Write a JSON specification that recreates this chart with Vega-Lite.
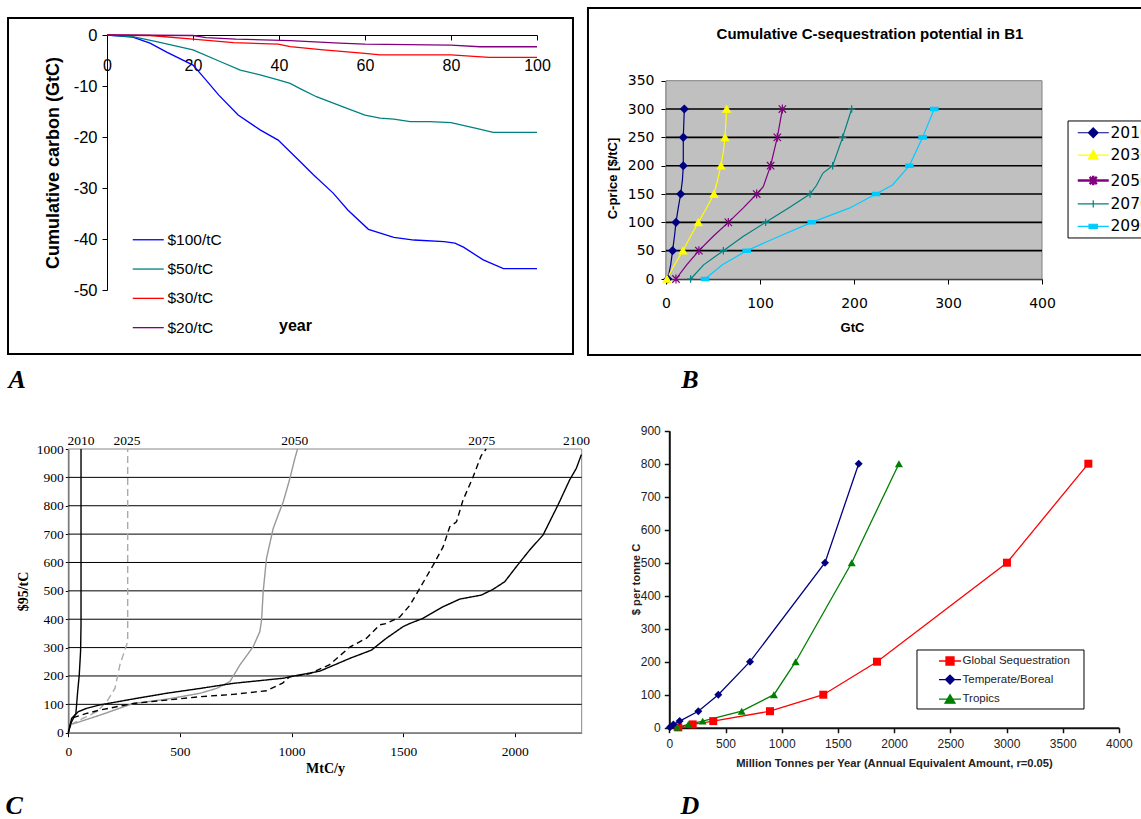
{
"$schema": "https://vega.github.io/schema/vega-lite/v6.json",
"width": 1141, "height": 819,
"autosize": {"type": "none"},
"padding": 0,
"background": "white",
"config": {
  "view": {"stroke": null},
  "font": "Liberation Sans",
  "axis": {"labelFlush": false, "labelOverlap": false, "labelBound": false, "grid": false, "zindex": 1, "domainColor": "black", "tickColor": "black", "labelColor": "black", "titleColor": "black", "labelExpr": "'' + datum.value"},
  "legend": {"labelLimit": 400}
},
"datasets": {
  "dsA": [
    {"scenario":"$100/tC","year":0,"carbon":0},{"scenario":"$100/tC","year":6,"carbon":-0.4},{"scenario":"$100/tC","year":10,"carbon":-1.6},{"scenario":"$100/tC","year":14,"carbon":-3.4},{"scenario":"$100/tC","year":20,"carbon":-5.9},{"scenario":"$100/tC","year":22.4,"carbon":-8.2},{"scenario":"$100/tC","year":26,"carbon":-11.8},{"scenario":"$100/tC","year":30.5,"carbon":-15.7},{"scenario":"$100/tC","year":35.6,"carbon":-18.6},{"scenario":"$100/tC","year":39.8,"carbon":-20.6},{"scenario":"$100/tC","year":44.9,"carbon":-24.8},{"scenario":"$100/tC","year":48,"carbon":-27.4},{"scenario":"$100/tC","year":52.6,"carbon":-31},{"scenario":"$100/tC","year":56,"carbon":-34.3},{"scenario":"$100/tC","year":60.8,"carbon":-38.1},{"scenario":"$100/tC","year":66.7,"carbon":-39.7},{"scenario":"$100/tC","year":71.4,"carbon":-40.2},{"scenario":"$100/tC","year":78.4,"carbon":-40.5},{"scenario":"$100/tC","year":80.9,"carbon":-40.8},{"scenario":"$100/tC","year":82.9,"carbon":-41.6},{"scenario":"$100/tC","year":87.5,"carbon":-44.1},{"scenario":"$100/tC","year":92.2,"carbon":-45.8},{"scenario":"$100/tC","year":100,"carbon":-45.8},
    {"scenario":"$50/tC","year":0,"carbon":0},{"scenario":"$50/tC","year":6,"carbon":-0.3},{"scenario":"$50/tC","year":11.5,"carbon":-1.3},{"scenario":"$50/tC","year":20,"carbon":-2.9},{"scenario":"$50/tC","year":26.3,"carbon":-5.2},{"scenario":"$50/tC","year":31,"carbon":-6.9},{"scenario":"$50/tC","year":35.6,"carbon":-7.8},{"scenario":"$50/tC","year":39.8,"carbon":-8.8},{"scenario":"$50/tC","year":42.6,"carbon":-9.5},{"scenario":"$50/tC","year":44.9,"carbon":-10.5},{"scenario":"$50/tC","year":48.7,"carbon":-12.1},{"scenario":"$50/tC","year":54.9,"carbon":-14.1},{"scenario":"$50/tC","year":60,"carbon":-15.7},{"scenario":"$50/tC","year":63.5,"carbon":-16.3},{"scenario":"$50/tC","year":66.7,"carbon":-16.5},{"scenario":"$50/tC","year":70.5,"carbon":-17},{"scenario":"$50/tC","year":75.1,"carbon":-17},{"scenario":"$50/tC","year":80,"carbon":-17.2},{"scenario":"$50/tC","year":85.9,"carbon":-18.3},{"scenario":"$50/tC","year":89.8,"carbon":-19.1},{"scenario":"$50/tC","year":100,"carbon":-19.1},
    {"scenario":"$30/tC","year":0,"carbon":0},{"scenario":"$30/tC","year":10,"carbon":-0.1},{"scenario":"$30/tC","year":20,"carbon":-0.8},{"scenario":"$30/tC","year":29.4,"carbon":-1.5},{"scenario":"$30/tC","year":39.8,"carbon":-1.8},{"scenario":"$30/tC","year":42.6,"carbon":-2.3},{"scenario":"$30/tC","year":50.3,"carbon":-2.9},{"scenario":"$30/tC","year":60,"carbon":-3.6},{"scenario":"$30/tC","year":63.5,"carbon":-3.9},{"scenario":"$30/tC","year":80,"carbon":-3.9},{"scenario":"$30/tC","year":88.9,"carbon":-4.4},{"scenario":"$30/tC","year":100,"carbon":-4.4},
    {"scenario":"$20/tC","year":0,"carbon":0},{"scenario":"$20/tC","year":20,"carbon":-0.1},{"scenario":"$20/tC","year":23,"carbon":-0.5},{"scenario":"$20/tC","year":30,"carbon":-0.8},{"scenario":"$20/tC","year":42.6,"carbon":-1.1},{"scenario":"$20/tC","year":54.1,"carbon":-1.6},{"scenario":"$20/tC","year":60,"carbon":-1.8},{"scenario":"$20/tC","year":80,"carbon":-2},{"scenario":"$20/tC","year":86.7,"carbon":-2.3},{"scenario":"$20/tC","year":100,"carbon":-2.3}
  ],
  "dsB": [
    {"year":"2010","gtc":2,"price":0},{"year":"2010","gtc":5,"price":25},{"year":"2010","gtc":7,"price":50},{"year":"2010","gtc":9,"price":75},{"year":"2010","gtc":10.6,"price":100},{"year":"2010","gtc":13,"price":125},{"year":"2010","gtc":15.6,"price":150},{"year":"2010","gtc":17.5,"price":175},{"year":"2010","gtc":18.4,"price":200},{"year":"2010","gtc":18.4,"price":250},{"year":"2010","gtc":19.5,"price":300},
    {"year":"2030","gtc":1,"price":0},{"year":"2030","gtc":9,"price":25},{"year":"2030","gtc":18,"price":50},{"year":"2030","gtc":26,"price":75},{"year":"2030","gtc":34.4,"price":100},{"year":"2030","gtc":43,"price":125},{"year":"2030","gtc":51,"price":150},{"year":"2030","gtc":54,"price":169},{"year":"2030","gtc":58.5,"price":200},{"year":"2030","gtc":61,"price":225},{"year":"2030","gtc":62.8,"price":250},{"year":"2030","gtc":64.5,"price":300},
    {"year":"2050","gtc":10.6,"price":0},{"year":"2050","gtc":22,"price":25},{"year":"2050","gtc":35,"price":50},{"year":"2050","gtc":50,"price":75},{"year":"2050","gtc":66.3,"price":100},{"year":"2050","gtc":82,"price":125},{"year":"2050","gtc":96.5,"price":150},{"year":"2050","gtc":103.5,"price":163},{"year":"2050","gtc":111.3,"price":200},{"year":"2050","gtc":118.4,"price":250},{"year":"2050","gtc":123.8,"price":300},
    {"year":"2070","gtc":26.2,"price":0},{"year":"2070","gtc":40,"price":25},{"year":"2070","gtc":61,"price":50},{"year":"2070","gtc":82,"price":75},{"year":"2070","gtc":106,"price":100},{"year":"2070","gtc":130,"price":125},{"year":"2070","gtc":153.2,"price":150},{"year":"2070","gtc":160,"price":165},{"year":"2070","gtc":167,"price":187},{"year":"2070","gtc":177.3,"price":200},{"year":"2070","gtc":187.9,"price":250},{"year":"2070","gtc":197.5,"price":300},
    {"year":"2090","gtc":41.5,"price":0},{"year":"2090","gtc":60,"price":25},{"year":"2090","gtc":85.8,"price":50},{"year":"2090","gtc":120,"price":75},{"year":"2090","gtc":155,"price":100},{"year":"2090","gtc":195,"price":125},{"year":"2090","gtc":223.4,"price":150},{"year":"2090","gtc":241,"price":166},{"year":"2090","gtc":258.9,"price":200},{"year":"2090","gtc":273,"price":250},{"year":"2090","gtc":285.4,"price":300}
  ],
  "dsC": [
    {"year":"2010","mtc":0,"price":0},{"year":"2010","mtc":15,"price":39},{"year":"2010","mtc":34,"price":68},{"year":"2010","mtc":42,"price":145},{"year":"2010","mtc":49,"price":203},{"year":"2010","mtc":55,"price":286},{"year":"2010","mtc":57,"price":380},{"year":"2010","mtc":57,"price":1000},
    {"year":"2025","mtc":10,"price":30},{"year":"2025","mtc":22,"price":33},{"year":"2025","mtc":67,"price":51},{"year":"2025","mtc":127,"price":74},{"year":"2025","mtc":172,"price":109},{"year":"2025","mtc":209,"price":156},{"year":"2025","mtc":231,"price":239},{"year":"2025","mtc":266,"price":321},{"year":"2025","mtc":266,"price":1000},
    {"year":"2050","mtc":15,"price":30},{"year":"2050","mtc":37,"price":35},{"year":"2050","mtc":142,"price":62},{"year":"2050","mtc":291,"price":103},{"year":"2050","mtc":440,"price":118},{"year":"2050","mtc":590,"price":139},{"year":"2050","mtc":664,"price":156},{"year":"2050","mtc":724,"price":180},{"year":"2050","mtc":769,"price":239},{"year":"2050","mtc":828,"price":303},{"year":"2050","mtc":858,"price":356},{"year":"2050","mtc":866,"price":397},{"year":"2050","mtc":873,"price":497},{"year":"2050","mtc":888,"price":615},{"year":"2050","mtc":918,"price":720},{"year":"2050","mtc":940,"price":767},{"year":"2050","mtc":963,"price":814},{"year":"2050","mtc":993,"price":897},{"year":"2050","mtc":1015,"price":967},{"year":"2050","mtc":1027,"price":1000},
    {"year":"2075","mtc":5,"price":20},{"year":"2075","mtc":22,"price":53},{"year":"2075","mtc":82,"price":68},{"year":"2075","mtc":142,"price":80},{"year":"2075","mtc":291,"price":103},{"year":"2075","mtc":440,"price":115},{"year":"2075","mtc":590,"price":127},{"year":"2075","mtc":739,"price":135},{"year":"2075","mtc":888,"price":148},{"year":"2075","mtc":960,"price":175},{"year":"2075","mtc":992,"price":197},{"year":"2075","mtc":1082,"price":208},{"year":"2075","mtc":1171,"price":240},{"year":"2075","mtc":1261,"price":302},{"year":"2075","mtc":1336,"price":333},{"year":"2075","mtc":1395,"price":380},{"year":"2075","mtc":1425,"price":385},{"year":"2075","mtc":1485,"price":408},{"year":"2075","mtc":1530,"price":449},{"year":"2075","mtc":1574,"price":508},{"year":"2075","mtc":1634,"price":590},{"year":"2075","mtc":1679,"price":655},{"year":"2075","mtc":1709,"price":726},{"year":"2075","mtc":1739,"price":743},{"year":"2075","mtc":1768,"price":819},{"year":"2075","mtc":1813,"price":901},{"year":"2075","mtc":1850,"price":977},{"year":"2075","mtc":1872,"price":1000},
    {"year":"2100","mtc":0,"price":0},{"year":"2100","mtc":15,"price":51},{"year":"2100","mtc":45,"price":74},{"year":"2100","mtc":82,"price":86},{"year":"2100","mtc":142,"price":98},{"year":"2100","mtc":291,"price":119},{"year":"2100","mtc":440,"price":139},{"year":"2100","mtc":590,"price":156},{"year":"2100","mtc":739,"price":174},{"year":"2100","mtc":888,"price":186},{"year":"2100","mtc":963,"price":192},{"year":"2100","mtc":992,"price":197},{"year":"2100","mtc":1127,"price":217},{"year":"2100","mtc":1261,"price":262},{"year":"2100","mtc":1358,"price":291},{"year":"2100","mtc":1425,"price":333},{"year":"2100","mtc":1500,"price":374},{"year":"2100","mtc":1530,"price":385},{"year":"2100","mtc":1589,"price":403},{"year":"2100","mtc":1679,"price":444},{"year":"2100","mtc":1754,"price":471},{"year":"2100","mtc":1850,"price":485},{"year":"2100","mtc":1902,"price":505},{"year":"2100","mtc":1955,"price":532},{"year":"2100","mtc":2007,"price":585},{"year":"2100","mtc":2067,"price":644},{"year":"2100","mtc":2127,"price":697},{"year":"2100","mtc":2194,"price":803},{"year":"2100","mtc":2246,"price":891},{"year":"2100","mtc":2276,"price":932},{"year":"2100","mtc":2299,"price":981}
  ],
  "labelsC": [
    {"yr":"2010","mtc":57},{"yr":"2025","mtc":263},{"yr":"2050","mtc":1015},{"yr":"2075","mtc":1852},{"yr":"2100","mtc":2277}
  ],
  "dsD": [
    {"region":"Global Sequestration","mt":80,"price":1},{"region":"Global Sequestration","mt":208,"price":10},{"region":"Global Sequestration","mt":391,"price":20},{"region":"Global Sequestration","mt":896,"price":50},{"region":"Global Sequestration","mt":1370,"price":100},{"region":"Global Sequestration","mt":1848,"price":200},{"region":"Global Sequestration","mt":3004,"price":500},{"region":"Global Sequestration","mt":3728,"price":800},
    {"region":"Temperate/Boreal","mt":5,"price":1},{"region":"Temperate/Boreal","mt":36,"price":10},{"region":"Temperate/Boreal","mt":92,"price":20},{"region":"Temperate/Boreal","mt":258,"price":50},{"region":"Temperate/Boreal","mt":436,"price":100},{"region":"Temperate/Boreal","mt":718,"price":200},{"region":"Temperate/Boreal","mt":1385,"price":500},{"region":"Temperate/Boreal","mt":1685,"price":800},
    {"region":"Tropics","mt":71,"price":1},{"region":"Tropics","mt":169,"price":10},{"region":"Tropics","mt":297,"price":20},{"region":"Tropics","mt":644,"price":50},{"region":"Tropics","mt":931,"price":100},{"region":"Tropics","mt":1124,"price":200},{"region":"Tropics","mt":1623,"price":500},{"region":"Tropics","mt":2043,"price":800}
  ]
},
"layer": [
  {
    "data": {"values": [{}]},
    "mark": {"type": "rect", "fill": "transparent", "stroke": "black", "strokeWidth": 2},
    "encoding": {
      "x": {"datum": -23.02, "type": "quantitative", "scale": {"domain": [0,100], "range": [107,537], "nice": false, "zero": false}, "axis": null},
      "x2": {"datum": 108.37},
      "y": {"datum": 3.33, "type": "quantitative", "scale": {"domain": [-50,0], "range": [290,35], "nice": false, "zero": false}, "axis": null},
      "y2": {"datum": -62.55}
    }
  },
  {
    "data": {"name": "dsA"},
    "mark": {"type": "line", "strokeWidth": 1.3},
    "encoding": {
      "x": {"field": "year", "type": "quantitative", "scale": {"domain": [0,100], "range": [107,537], "nice": false, "zero": false},
            "axis": {"orient": "bottom", "offset": -784, "values": [0,20,40,60,80,100], "tickSize": 5, "labelPadding": 17, "labelFont": "Liberation Sans", "labelFontSize": 16, "title": "year", "titleFont": "Liberation Sans", "titleFontSize": 16, "titleFontWeight": "bold", "titleX": 295, "titleY": 290, "titleBaseline": "middle"}},
      "y": {"field": "carbon", "type": "quantitative", "scale": {"domain": [-50,0], "range": [290,35], "nice": false, "zero": false},
            "axis": {"orient": "left", "offset": -107, "values": [0,-10,-20,-30,-40,-50], "tickSize": 5, "labelPadding": 5, "labelFont": "Liberation Sans", "labelFontSize": 16.5, "title": "Cumulative carbon (GtC)", "titleFont": "Liberation Sans", "titleFontSize": 18, "titleFontWeight": "bold", "titleX": -54, "titleY": 162.5, "titleBaseline": "middle", "titleAngle": -90}},
      "color": {"field": "scenario", "type": "nominal",
                "scale": {"domain": ["$100/tC","$50/tC","$30/tC","$20/tC"], "range": ["#0000ff","#008080","#ff0000","#800080"]},
                "legend": {"orient": "none", "legendX": 131, "legendY": 232, "direction": "vertical", "title": null, "padding": 0, "symbolType": "M-1,0L4.17,0", "symbolSize": 144, "symbolStrokeWidth": 1.3, "labelFont": "Liberation Sans", "labelFontSize": 15.5, "labelColor": "black", "labelOffset": 21, "rowPadding": 12.3}}
    }
  },
  {
    "data": {"values": [{"t": "A"}]},
    "mark": {"type": "text", "font": "Liberation Serif", "fontSize": 26, "fontWeight": "bold", "fontStyle": "italic", "color": "black"},
    "encoding": {
      "x": {"datum": -20.9, "type": "quantitative", "scale": {"domain": [0,100], "range": [107,537], "nice": false, "zero": false}, "axis": null},
      "y": {"datum": -67.6, "type": "quantitative", "scale": {"domain": [-50,0], "range": [290,35], "nice": false, "zero": false}, "axis": null},
      "text": {"field": "t"}
    }
  },
  {
    "data": {"values": [{}]},
    "mark": {"type": "rect", "fill": "transparent", "stroke": "black", "strokeWidth": 2},
    "encoding": {
      "x": {"datum": -83, "type": "quantitative", "scale": {"domain": [0,400], "range": [666,1042], "nice": false, "zero": false}, "axis": null},
      "x2": {"datum": 510},
      "y": {"datum": 478.3, "type": "quantitative", "scale": {"domain": [0,350], "range": [279,80.7], "nice": false, "zero": false}, "axis": null},
      "y2": {"datum": -134.1}
    }
  },
  {
    "data": {"values": [{}]},
    "mark": {"type": "rect", "fill": "#c0c0c0", "stroke": "#808080", "strokeWidth": 1},
    "encoding": {
      "x": {"datum": 0, "type": "quantitative", "scale": {"domain": [0,400], "range": [666,1042], "nice": false, "zero": false}, "axis": null},
      "x2": {"datum": 400},
      "y": {"datum": 0, "type": "quantitative", "scale": {"domain": [0,350], "range": [279,80.7], "nice": false, "zero": false}, "axis": null},
      "y2": {"datum": 350}
    }
  },
  {
    "data": {"values": [{"p":50},{"p":100},{"p":150},{"p":200},{"p":250},{"p":300}]},
    "mark": {"type": "rule", "color": "black", "strokeWidth": 1.6},
    "encoding": {
      "y": {"field": "p", "type": "quantitative", "scale": {"domain": [0,350], "range": [279,80.7], "nice": false, "zero": false}, "axis": null},
      "x": {"datum": 0, "type": "quantitative", "scale": {"domain": [0,400], "range": [666,1042], "nice": false, "zero": false}, "axis": null},
      "x2": {"datum": 400}
    }
  },
  {
    "data": {"values": [{}]},
    "mark": {"type": "rect", "fill": "white", "stroke": "black", "strokeWidth": 1},
    "encoding": {
      "x": {"datum": 427.7, "type": "quantitative", "scale": {"domain": [0,400], "range": [666,1042], "nice": false, "zero": false}, "axis": null},
      "x2": {"datum": 525.5},
      "y": {"datum": 278.9, "type": "quantitative", "scale": {"domain": [0,350], "range": [279,80.7], "nice": false, "zero": false}, "axis": null},
      "y2": {"datum": 72.4}
    }
  },
  {
    "data": {"name": "dsB"},
    "mark": {"type": "line", "strokeWidth": 1.2},
    "encoding": {
      "x": {"field": "gtc", "type": "quantitative", "scale": {"domain": [0,400], "range": [666,1042], "nice": false, "zero": false},
            "axis": {"orient": "bottom", "offset": -540, "values": [0,100,200,300,400], "tickSize": 5, "domainWidth": 1.5, "labelPadding": 12, "labelFont": "DejaVu Sans", "labelFontSize": 14, "title": "GtC", "titleFont": "Liberation Sans", "titleFontSize": 13, "titleFontWeight": "bold", "titleX": 852, "titleY": 48, "titleBaseline": "middle"}},
      "y": {"field": "price", "type": "quantitative", "scale": {"domain": [0,350], "range": [279,80.7], "nice": false, "zero": false},
            "axis": {"orient": "left", "offset": -666, "values": [0,50,100,150,200,250,300,350], "tickSize": 5, "domainWidth": 1.5, "labelPadding": 7, "labelFont": "DejaVu Sans", "labelFontSize": 14, "title": "C-price [$/tC]", "titleFont": "Liberation Sans", "titleFontSize": 13, "titleFontWeight": "bold", "titleX": -54, "titleY": 178, "titleBaseline": "middle", "titleAngle": -90}},
      "order": {"field": "price", "type": "quantitative"},
      "color": {"field": "year", "type": "nominal",
                "scale": {"domain": ["2010","2030","2050","2070","2090"], "range": ["#000080","#ffff00","#800080","#008080","#00ccff"]},
                "legend": {"orient": "none", "legendX": 1076, "legendY": 125, "direction": "vertical", "title": null, "padding": 0, "symbolSize": 144, "labelFont": "DejaVu Sans", "labelFontSize": 15.5, "labelColor": "black", "labelOffset": 19, "rowPadding": 5.4,
                  "encode": {"symbols": {"update": {
                    "shape": {"signal": "datum.value==='2010'?'M-1,0L4.17,0M1.58,-0.8L2.38,0L1.58,0.8L0.78,0Z':datum.value==='2030'?'M-1,0L4.17,0M0.78,0.65L1.58,-0.8L2.38,0.65Z':datum.value==='2050'?'M-1,0L4.17,0M0.98,-0.6L2.18,0.6M0.98,0.6L2.18,-0.6M1.58,-0.8L1.58,0.8':datum.value==='2070'?'M-1,0L4.17,0M1.58,-0.6L1.58,0.6':'M-1,0L4.17,0M0.88,-0.35L2.28,-0.35L2.28,0.35L0.88,0.35Z'"},
                    "fill": {"signal": "datum.value==='2010'?'#000080':datum.value==='2030'?'#ffff00':datum.value==='2050'?'#800080':datum.value==='2070'?'#008080':'#00ccff'"},
                    "stroke": {"signal": "datum.value==='2010'?'#000080':datum.value==='2030'?'#ffff00':datum.value==='2050'?'#800080':datum.value==='2070'?'#008080':'#00ccff'"},
                    "strokeWidth": {"signal": "datum.value==='2050'?2.5:1.2"},
                    "opacity": {"value": 1}
                  }}}}}
    }
  },
  {
    "data": {"name": "dsB"},
    "transform": [{"filter": "datum.price % 50 == 0"}],
    "mark": {"type": "point", "opacity": 1, "strokeWidth": 1.2, "size": 55},
    "encoding": {
      "x": {"field": "gtc", "type": "quantitative", "scale": {"domain": [0,400], "range": [666,1042], "nice": false, "zero": false}, "axis": null},
      "y": {"field": "price", "type": "quantitative", "scale": {"domain": [0,350], "range": [279,80.7], "nice": false, "zero": false}, "axis": null},
      "fill": {"field": "year", "type": "nominal", "scale": {"domain": ["2010","2030","2050","2070","2090"], "range": ["#000080","#ffff00","#800080","#008080","#00ccff"]}, "legend": null},
      "stroke": {"field": "year", "type": "nominal", "scale": {"domain": ["2010","2030","2050","2070","2090"], "range": ["#000080","#ffff00","#800080","#008080","#00ccff"]}, "legend": null},
      "shape": {"field": "year", "type": "nominal", "scale": {"domain": ["2010","2030","2050","2070","2090"], "range": ["diamond","triangle-up","M-1,-1L1,1M-1,1L1,-1M0,-1.2L0,1.2","M-1,0L1,0M0,-1L0,1","M-1,-0.45L1,-0.45L1,0.45L-1,0.45Z"]}, "legend": null}
    }
  },
  {
    "data": {"values": [{"t": "Cumulative C-sequestration potential in B1"}]},
    "mark": {"type": "text", "font": "Liberation Sans", "fontSize": 15, "fontWeight": "bold", "color": "black"},
    "encoding": {
      "x": {"datum": 217, "type": "quantitative", "scale": {"domain": [0,400], "range": [666,1042], "nice": false, "zero": false}, "axis": null},
      "y": {"datum": 432.4, "type": "quantitative", "scale": {"domain": [0,350], "range": [279,80.7], "nice": false, "zero": false}, "axis": null},
      "text": {"field": "t"}
    }
  },
  {
    "data": {"values": [{"t": "B"}]},
    "mark": {"type": "text", "font": "Liberation Serif", "fontSize": 26, "fontWeight": "bold", "fontStyle": "italic", "color": "black"},
    "encoding": {
      "x": {"datum": 25.5, "type": "quantitative", "scale": {"domain": [0,400], "range": [666,1042], "nice": false, "zero": false}, "axis": null},
      "y": {"datum": -178, "type": "quantitative", "scale": {"domain": [0,350], "range": [279,80.7], "nice": false, "zero": false}, "axis": null},
      "text": {"field": "t"}
    }
  },
  {
    "data": {"values": [{}]},
    "mark": {"type": "rect", "fill": "transparent", "stroke": "#888888", "strokeWidth": 1},
    "encoding": {
      "x": {"datum": 0, "type": "quantitative", "scale": {"domain": [0,2300], "range": [68.3,581.7], "nice": false, "zero": false}, "axis": null},
      "x2": {"datum": 2300},
      "y": {"datum": 0, "type": "quantitative", "scale": {"domain": [0,1000], "range": [732.7,449], "nice": false, "zero": false}, "axis": null},
      "y2": {"datum": 1000}
    }
  },
  {
    "data": {"values": [{"p":100},{"p":200},{"p":300},{"p":400},{"p":500},{"p":600},{"p":700},{"p":800},{"p":900}]},
    "mark": {"type": "rule", "color": "black", "strokeWidth": 1},
    "encoding": {
      "y": {"field": "p", "type": "quantitative", "scale": {"domain": [0,1000], "range": [732.7,449], "nice": false, "zero": false}, "axis": null},
      "x": {"datum": 0, "type": "quantitative", "scale": {"domain": [0,2300], "range": [68.3,581.7], "nice": false, "zero": false}, "axis": null},
      "x2": {"datum": 2300}
    }
  },
  {
    "data": {"name": "dsC"},
    "mark": {"type": "line", "strokeWidth": 1.4},
    "encoding": {
      "x": {"field": "mtc", "type": "quantitative", "scale": {"domain": [0,2300], "range": [68.3,581.7], "nice": false, "zero": false},
            "axis": {"orient": "bottom", "offset": -86.3, "values": [0,500,1000,1500,2000], "tickSize": 4, "domainColor": "#444444", "labelPadding": 8, "labelFont": "Liberation Serif", "labelFontSize": 13.5, "title": "MtC/y", "titleFont": "Liberation Serif", "titleFontSize": 14, "titleFontWeight": "bold", "titleX": 325, "titleY": 35.5, "titleBaseline": "middle"}},
      "y": {"field": "price", "type": "quantitative", "scale": {"domain": [0,1000], "range": [732.7,449], "nice": false, "zero": false},
            "axis": {"orient": "left", "offset": -68.3, "values": [0,100,200,300,400,500,600,700,800,900,1000], "tickSize": 3, "labelPadding": 2, "labelFont": "Liberation Serif", "labelFontSize": 13.5, "title": "$95/tC", "titleFont": "Liberation Serif", "titleFontSize": 14, "titleFontWeight": "bold", "titleX": -45, "titleY": 591, "titleBaseline": "middle", "titleAngle": -90}},
      "order": {"field": "price", "type": "quantitative"},
      "color": {"field": "year", "type": "nominal", "scale": {"domain": ["2010","2025","2050","2075","2100"], "range": ["#000000","#aaaaaa","#999999","#000000","#000000"]}, "legend": null},
      "strokeDash": {"field": "year", "type": "nominal", "scale": {"domain": ["2010","2025","2050","2075","2100"], "range": [[1,0],[7,4],[1,0],[6,4],[1,0]]}, "legend": null}
    }
  },
  {
    "data": {"name": "labelsC"},
    "mark": {"type": "text", "font": "Liberation Serif", "fontSize": 13.5, "baseline": "bottom", "dy": -1, "color": "black"},
    "encoding": {
      "x": {"field": "mtc", "type": "quantitative", "scale": {"domain": [0,2300], "range": [68.3,581.7], "nice": false, "zero": false}, "axis": null},
      "y": {"datum": 1000, "type": "quantitative", "scale": {"domain": [0,1000], "range": [732.7,449], "nice": false, "zero": false}, "axis": null},
      "text": {"field": "yr"}
    }
  },
  {
    "data": {"values": [{"t": "C"}]},
    "mark": {"type": "text", "font": "Liberation Serif", "fontSize": 26, "fontWeight": "bold", "fontStyle": "italic", "color": "black"},
    "encoding": {
      "x": {"datum": -243, "type": "quantitative", "scale": {"domain": [0,2300], "range": [68.3,581.7], "nice": false, "zero": false}, "axis": null},
      "y": {"datum": -258, "type": "quantitative", "scale": {"domain": [0,1000], "range": [732.7,449], "nice": false, "zero": false}, "axis": null},
      "text": {"field": "t"}
    }
  },
  {
    "data": {"values": [{}]},
    "mark": {"type": "rect", "fill": "white", "stroke": "black", "strokeWidth": 1},
    "encoding": {
      "x": {"datum": 2203.7, "type": "quantitative", "scale": {"domain": [0,4000], "range": [669.3,1118.9], "nice": false, "zero": false}, "axis": null},
      "x2": {"datum": 3689.5},
      "y": {"datum": 235.5, "type": "quantitative", "scale": {"domain": [0,900], "range": [727.7,430.7], "nice": false, "zero": false}, "axis": null},
      "y2": {"datum": 56.7}
    }
  },
  {
    "data": {"name": "dsD"},
    "mark": {"type": "line", "strokeWidth": 1.3},
    "encoding": {
      "x": {"field": "mt", "type": "quantitative", "scale": {"domain": [0,4000], "range": [669.3,1118.9], "nice": false, "zero": false},
            "axis": {"orient": "bottom", "offset": -91.3, "values": [0,500,1000,1500,2000,2500,3000,3500,4000], "tickSize": 5, "domainWidth": 2, "domainColor": "#111111", "tickColor": "#111111", "tickWidth": 1.5, "labelPadding": 6, "labelFont": "Liberation Sans", "labelFontSize": 12, "labelColor": "#222222", "title": "Million Tonnes per Year (Annual Equivalent Amount, r=0.05)", "titleFont": "Liberation Sans", "titleFontSize": 11.2, "titleFontWeight": "bold", "titleColor": "#222222", "titleX": 894, "titleY": 35.3, "titleBaseline": "middle"}},
      "y": {"field": "price", "type": "quantitative", "scale": {"domain": [0,900], "range": [727.7,430.7], "nice": false, "zero": false},
            "axis": {"orient": "left", "offset": -669.3, "values": [0,100,200,300,400,500,600,700,800,900], "tickSize": 5, "domainWidth": 2, "domainColor": "#111111", "tickColor": "#111111", "tickWidth": 1.5, "labelPadding": 4, "labelFont": "Liberation Sans", "labelFontSize": 12, "labelColor": "#222222", "title": "$ per tonne C", "titleFont": "Liberation Sans", "titleFontSize": 11.2, "titleFontWeight": "bold", "titleColor": "#222222", "titleX": -32.6, "titleY": 579, "titleBaseline": "middle", "titleAngle": -90}},
      "order": {"field": "price", "type": "quantitative"},
      "color": {"field": "region", "type": "nominal",
                "scale": {"domain": ["Global Sequestration","Temperate/Boreal","Tropics"], "range": ["#ff0000","#000080","#008000"]},
                "legend": {"orient": "none", "legendX": 938, "legendY": 655, "direction": "vertical", "title": null, "padding": 0, "symbolSize": 100, "labelFont": "Liberation Sans", "labelFontSize": 11.5, "labelColor": "#222222", "labelOffset": 12.5, "rowPadding": 3.6,
                  "encode": {"symbols": {"update": {
                    "shape": {"signal": "datum.value==='Global Sequestration'?'M-1,0L3.4,0M0.4,-0.8L2,-0.8L2,0.8L0.4,0.8Z':datum.value==='Temperate/Boreal'?'M-1,0L3.4,0M1.2,-0.9L2.1,0L1.2,0.9L0.3,0Z':'M-1,0L3.4,0M1.2,-0.9L2.2,0.8L0.2,0.8Z'"},
                    "fill": {"signal": "datum.value==='Global Sequestration'?'#ff0000':datum.value==='Temperate/Boreal'?'#000080':'#008000'"},
                    "stroke": {"signal": "datum.value==='Global Sequestration'?'#ff0000':datum.value==='Temperate/Boreal'?'#000080':'#008000'"},
                    "strokeWidth": {"value": 1.3},
                    "opacity": {"value": 1}
                  }}}}}
    }
  },
  {
    "data": {"name": "dsD"},
    "mark": {"type": "point", "filled": true, "opacity": 1, "size": 64},
    "encoding": {
      "x": {"field": "mt", "type": "quantitative", "scale": {"domain": [0,4000], "range": [669.3,1118.9], "nice": false, "zero": false}, "axis": null},
      "y": {"field": "price", "type": "quantitative", "scale": {"domain": [0,900], "range": [727.7,430.7], "nice": false, "zero": false}, "axis": null},
      "color": {"field": "region", "type": "nominal", "scale": {"domain": ["Global Sequestration","Temperate/Boreal","Tropics"], "range": ["#ff0000","#000080","#008000"]}, "legend": null},
      "shape": {"field": "region", "type": "nominal", "scale": {"domain": ["Global Sequestration","Temperate/Boreal","Tropics"], "range": ["square","diamond","triangle-up"]}, "legend": null}
    }
  },
  {
    "data": {"values": [{"t": "D"}]},
    "mark": {"type": "text", "font": "Liberation Serif", "fontSize": 26, "fontWeight": "bold", "fontStyle": "italic", "color": "black"},
    "encoding": {
      "x": {"datum": 184, "type": "quantitative", "scale": {"domain": [0,4000], "range": [669.3,1118.9], "nice": false, "zero": false}, "axis": null},
      "y": {"datum": -237, "type": "quantitative", "scale": {"domain": [0,900], "range": [727.7,430.7], "nice": false, "zero": false}, "axis": null},
      "text": {"field": "t"}
    }
  }
],
"resolve": {
  "scale": {"x": "independent", "y": "independent", "color": "independent", "fill": "independent", "stroke": "independent", "shape": "independent", "strokeDash": "independent"},
  "axis": {"x": "independent", "y": "independent"},
  "legend": {"color": "independent"}
}
}
